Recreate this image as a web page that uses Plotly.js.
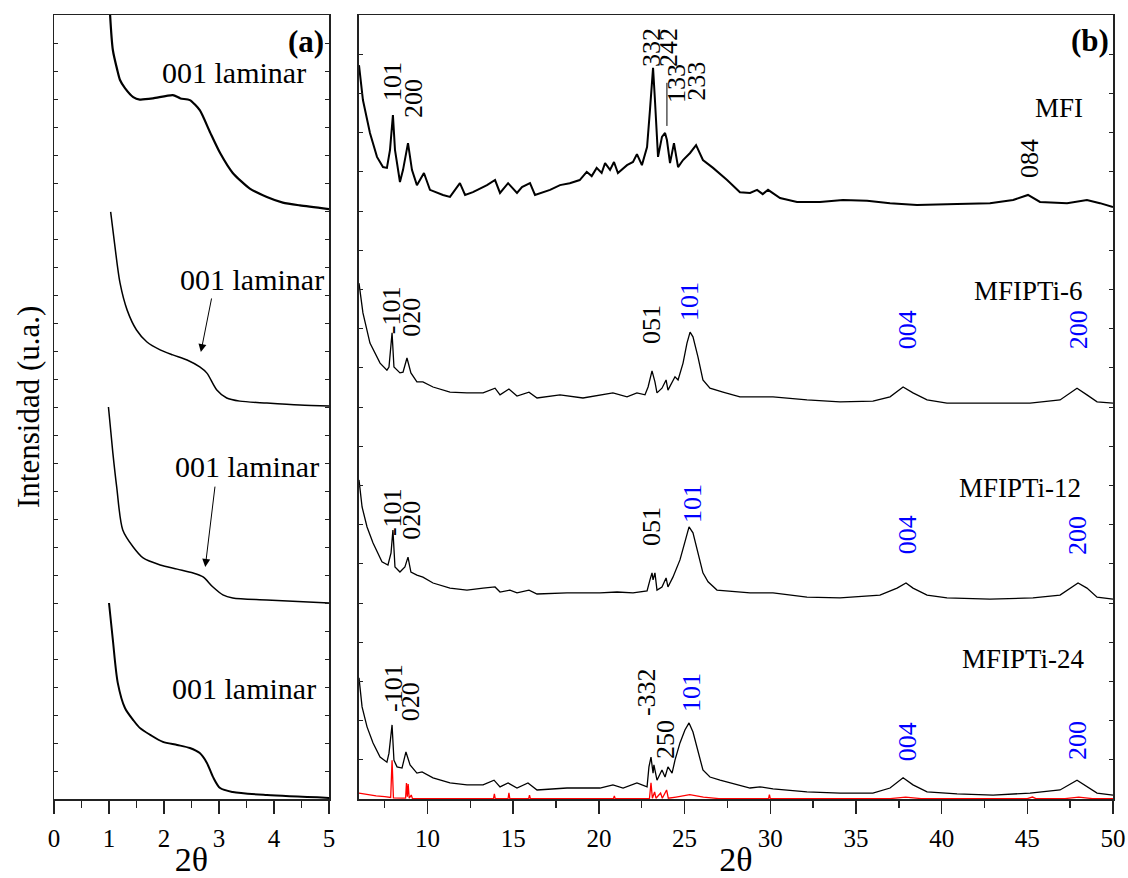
<!DOCTYPE html>
<html><head><meta charset="utf-8">
<script src="https://cdn.plot.ly/plotly-3.0.1.min.js"></script>
<style>body{margin:0;background:#fff}#chart{width:1128px;height:878px}</style>
</head><body><div id="chart"></div>
<script>
// ---------- Panel (a): low-angle XRD, 2θ 0–5 ----------
const a_mfi_x = [1.00,1.02,1.07,1.15,1.20,1.29,1.44,1.56,1.80,2.16,2.30,2.47,2.65,2.84,3.02,3.25,3.56,3.87,4.16,4.47,5.00];
const a_mfi_y = [29.0,28.0,26.75,26.04,25.68,25.39,25.07,24.98,25.02,25.14,25.02,24.96,24.60,23.80,23.07,22.36,21.80,21.50,21.30,21.20,21.07];

const a_ti6_x = [1.03,1.10,1.20,1.33,1.50,1.69,1.93,2.16,2.42,2.65,2.78,2.96,3.14,3.38,3.87,4.47,5.00];
const a_ti6_y = [20.97,19.86,18.43,17.46,16.75,16.32,16.04,15.86,15.68,15.43,15.21,14.61,14.32,14.21,14.14,14.07,14.04];

const a_ti12_x = [0.99,1.07,1.14,1.25,1.44,1.62,1.93,2.24,2.53,2.71,2.89,3.07,3.25,3.87,5.00];
const a_ti12_y = [14.00,12.36,11.14,9.61,9.00,8.61,8.36,8.21,8.07,7.93,7.57,7.29,7.18,7.11,7.00];

const a_ti24_x = [1.00,1.07,1.16,1.29,1.44,1.56,1.75,1.98,2.24,2.47,2.65,2.78,2.89,3.02,3.25,3.87,5.00];
const a_ti24_y = [7.00,5.68,4.14,3.25,2.82,2.54,2.29,2.04,1.93,1.82,1.64,1.29,0.79,0.39,0.25,0.14,0.04];

// ---------- Panel (b): wide-angle XRD, 2θ 6–50 ----------
const b_mfi_x = [6.00,6.23,6.64,7.05,7.40,7.63,7.81,7.98,8.10,8.39,8.57,8.86,9.09,9.38,9.79,10.14,10.90,11.31,11.89,12.19,12.65,13.47,13.94,14.23,14.70,15.22,15.51,15.98,16.27,17.15,17.73,18.30,18.88,19.29,19.58,19.87,20.16,20.36,20.65,20.88,21.11,21.64,21.99,22.22,22.51,22.81,22.98,23.16,23.27,23.45,23.68,23.86,23.97,24.15,24.38,24.62,24.91,25.32,25.67,26.07,26.66,27.48,28.23,28.82,29.23,29.56,29.87,30.57,31.56,32.90,34.24,35.65,36.99,38.56,40.90,42.82,44.17,45.04,45.74,47.32,48.48,49.24,50.00];
const b_mfi_y = [18.72,17.83,16.99,16.38,16.12,16.10,16.56,17.45,16.56,15.74,16.05,16.73,16.05,15.66,15.97,15.54,15.41,15.36,15.71,15.41,15.48,15.66,15.79,15.46,15.71,15.46,15.61,15.71,15.41,15.54,15.66,15.71,15.79,16.00,15.89,16.10,15.97,16.22,16.05,16.25,15.97,16.17,16.25,16.45,16.17,16.63,17.58,18.65,17.83,16.38,16.89,16.99,16.81,16.22,16.73,16.12,16.30,16.48,16.68,16.30,16.10,15.79,15.48,15.46,15.54,15.43,15.54,15.33,15.23,15.23,15.28,15.26,15.20,15.15,15.18,15.20,15.28,15.41,15.23,15.20,15.28,15.20,15.10];

const b_ti6_x = [6.00,6.23,6.64,7.23,7.63,7.75,7.93,8.04,8.39,8.57,8.80,9.03,9.38,9.73,10.32,11.31,12.30,13.24,13.94,14.23,14.75,15.22,15.92,16.39,17.73,19.07,20.82,21.64,22.22,22.69,22.87,23.10,23.27,23.39,23.68,23.92,24.03,24.44,24.62,24.91,25.14,25.32,25.49,25.78,26.07,26.48,27.24,28.23,30.16,32.14,34.07,35.99,36.99,37.75,38.33,39.15,40.31,42.82,45.16,46.91,47.90,48.48,49.07,50.00];
const b_ti6_y = [13.16,12.40,11.63,11.12,10.94,11.02,11.89,11.02,10.87,10.89,11.25,10.87,10.64,10.64,10.51,10.38,10.36,10.36,10.48,10.31,10.46,10.28,10.38,10.23,10.31,10.23,10.36,10.26,10.36,10.31,10.51,10.92,10.64,10.36,10.48,10.69,10.43,10.77,10.69,11.12,11.63,11.91,11.79,11.28,10.69,10.48,10.38,10.26,10.26,10.18,10.13,10.15,10.26,10.51,10.36,10.18,10.10,10.10,10.10,10.18,10.48,10.31,10.13,10.10];

const b_ti12_x = [6.00,6.18,6.47,6.82,7.34,7.69,7.87,7.98,8.10,8.39,8.68,8.86,9.03,9.38,9.73,10.32,11.31,12.30,13.24,13.94,14.23,14.81,15.22,15.92,16.39,18.14,20.06,21.06,21.99,22.81,22.98,23.10,23.16,23.27,23.39,23.68,23.92,24.03,24.32,24.73,25.02,25.26,25.49,25.78,26.07,26.37,26.89,28.82,30.16,32.14,34.07,36.40,37.40,37.92,38.33,39.15,40.31,42.82,45.33,46.91,47.96,48.48,49.07,50.00];
const b_ti12_y = [8.14,7.45,6.94,6.53,6.05,5.97,6.28,6.86,5.92,5.79,5.92,6.17,5.79,5.71,5.66,5.51,5.38,5.33,5.38,5.41,5.28,5.33,5.26,5.33,5.23,5.26,5.26,5.28,5.26,5.31,5.59,5.77,5.59,5.77,5.33,5.41,5.64,5.41,5.66,6.10,6.56,6.94,6.79,6.28,5.77,5.54,5.33,5.26,5.26,5.15,5.13,5.20,5.38,5.51,5.38,5.20,5.13,5.10,5.13,5.20,5.51,5.38,5.15,5.10];

const b_ti24_x = [6.00,6.18,6.47,6.82,7.23,7.63,7.75,7.93,8.04,8.22,8.51,8.74,8.98,9.38,9.68,10.32,11.31,12.30,13.24,13.88,14.23,14.70,15.22,15.86,16.39,18.14,20.06,20.82,21.41,22.22,22.81,22.92,23.04,23.16,23.21,23.39,23.68,23.86,24.03,24.27,24.44,24.73,25.02,25.26,25.49,25.78,26.07,26.48,27.07,28.82,29.40,30.16,32.14,34.07,35.99,36.99,37.75,38.33,39.15,40.90,43.00,45.16,46.91,47.90,48.48,49.07,50.00];
const b_ti24_y = [3.09,2.35,1.84,1.43,1.07,0.94,1.17,1.89,0.99,0.82,0.79,1.20,0.87,0.66,0.69,0.54,0.41,0.36,0.36,0.48,0.31,0.41,0.28,0.41,0.23,0.28,0.28,0.36,0.28,0.41,0.31,0.82,1.07,0.66,0.87,0.48,0.74,0.56,0.82,0.66,0.99,1.43,1.76,1.94,1.71,1.25,0.74,0.56,0.48,0.28,0.31,0.26,0.18,0.15,0.15,0.28,0.54,0.36,0.18,0.13,0.10,0.15,0.23,0.48,0.31,0.15,0.10];

// reference pattern (red)
const b_ref_x = [6.00,6.50,7.00,7.50,7.85,7.93,8.01,8.50,8.72,8.77,8.82,8.87,8.93,9.05,9.12,10.00,13.85,13.90,13.95,14.70,14.75,14.80,15.90,15.95,16.00,20.85,20.90,20.95,22.95,23.04,23.12,23.25,23.33,23.60,23.70,23.95,24.05,24.50,25.30,26.10,27.00,29.90,29.95,30.00,37.00,37.90,38.80,45.00,45.30,45.50,47.20,48.00,48.80,50.00];
const b_ref_y = [0.15,0.11,0.08,0.06,0.04,0.99,0.03,0.02,0.02,0.41,0.06,0.38,0.02,0.10,0.01,0.01,0.01,0.13,0.01,0.01,0.16,0.01,0.01,0.10,0.01,0.01,0.08,0.01,0.01,0.41,0.02,0.18,0.02,0.15,0.02,0.23,0.02,0.05,0.11,0.05,0.01,0.01,0.11,0.01,0.01,0.05,0.01,0.01,0.05,0.01,0.01,0.05,0.01,0.01];

const FONT = 'Liberation Serif, Times New Roman, serif';
const AX = '#222';

function tr(x, y, xa, ya, w, c, smooth) {
  const line = {color: c || '#000', width: w};
  if (smooth) { line.shape = 'spline'; line.smoothing = smooth; }
  return {x: x, y: y, xaxis: xa, yaxis: ya, type: 'scatter', mode: 'lines',
          line: line, hoverinfo: 'skip', cliponaxis: true};
}

const data = [
  tr(a_mfi_x, a_mfi_y, 'x', 'y', 2.2, null, 0.6),
  tr(a_ti6_x, a_ti6_y, 'x', 'y', 1.5, null, 0.8),
  tr(a_ti12_x, a_ti12_y, 'x', 'y', 1.5, null, 0.8),
  tr(a_ti24_x, a_ti24_y, 'x', 'y', 2.0, null, 0.8),
  tr(b_ref_x, b_ref_y, 'x2', 'y2', 1.3, '#ff0000'),
  tr(b_mfi_x, b_mfi_y, 'x2', 'y2', 2.0),
  tr(b_ti6_x, b_ti6_y, 'x2', 'y2', 1.3),
  tr(b_ti12_x, b_ti12_y, 'x2', 'y2', 1.3),
  tr(b_ti24_x, b_ti24_y, 'x2', 'y2', 1.3)
];

function xaxisDef(domain, range, dtick, minorD, anchor) {
  return {domain: domain, range: range, anchor: anchor, tick0: 0, dtick: dtick,
    showgrid: false, zeroline: false, showline: true, linecolor: AX, linewidth: 1.5, mirror: true,
    layer: 'below traces',
    ticks: 'outside', ticklen: 13, tickwidth: 1.5, tickcolor: AX,
    minor: {dtick: minorD, tick0: 0, ticks: 'outside', ticklen: 7, tickwidth: 1.5, tickcolor: AX, showgrid: false},
    tickfont: {family: FONT, size: 25, color: '#000'}, ticklabelstandoff: 3,
    title: {text: '2θ', font: {family: FONT, size: 34, color: '#000'}, standoff: 2}};
}
function topAxisDef(over, anchor, range, dtick) {
  return {overlaying: over, anchor: anchor, side: 'top', range: range, tick0: 0, dtick: dtick,
    showgrid: false, zeroline: false, showline: false, ticks: 'inside', ticklen: 4, tickwidth: 1,
    tickcolor: AX, showticklabels: false};
}
function yaxisDef(range, anchor) {
  return {domain: [0, 1], range: range, anchor: anchor, tick0: 0, dtick: 1,
    showgrid: false, zeroline: false, showline: true, linecolor: AX, linewidth: 1.5, mirror: 'ticks',
    ticks: 'inside', ticklen: 4, tickwidth: 1, tickcolor: AX, showticklabels: false};
}

function lab(text, x, y, xa, opts) {
  const o = opts || {};
  return {text: text, x: x, y: y, xref: xa, yref: xa === 'x' ? 'y' : 'y2', showarrow: false,
          textangle: o.rot ? -90 : 0, xanchor: o.xanchor || 'center', yanchor: 'middle',
          font: {family: FONT, size: o.size || 26, color: o.color || '#000'}};
}
function arrow(x, y, ax, ay) {
  return {text: '', x: x, y: y, ax: ax, ay: ay, xref: 'x', yref: 'y', axref: 'x', ayref: 'y',
          showarrow: true, arrowhead: 2, arrowsize: 1.6, arrowwidth: 1, arrowcolor: '#000'};
}
const BLUE = '#0000ff';
const R = {rot: true};
const RB = {rot: true, color: BLUE};

const annotations = [
  // panel a
  lab('<b>(a)</b>', 4.95, 27.07, 'x', {xanchor: 'right', size: 31}),
  lab('001 laminar', 3.27, 25.96, 'x', {size: 30}),
  lab('001 laminar', 3.60, 18.57, 'x', {size: 30}),
  lab('001 laminar', 3.51, 11.86, 'x', {size: 30}),
  lab('001 laminar', 3.45, 3.96, 'x', {size: 30}),
  arrow(2.67, 15.96, 2.87, 17.93),
  arrow(2.75, 8.29, 2.93, 11.21),
  // panel b
  lab('<b>(b)</b>', 49.9, 19.34, 'x2', {xanchor: 'right', size: 31}),
  lab('MFI', 48.37, 17.63, 'x2', {xanchor: 'right', size: 27}),
  lab('MFIPTi-6', 48.37, 12.96, 'x2', {xanchor: 'right', size: 27}),
  lab('MFIPTi-12', 48.25, 7.93, 'x2', {xanchor: 'right', size: 27}),
  lab('MFIPTi-24', 48.48, 3.57, 'x2', {xanchor: 'right', size: 27}),
  // MFI hkl
  lab('101', 7.93, 18.29, 'x2', R),
  lab('200', 9.15, 17.88, 'x2', R),
  lab('332', 23.10, 19.16, 'x2', R),
  lab('242', 24.03, 19.18, 'x2', R),
  lab('133', 24.56, 18.24, 'x2', R),
  lab('233', 25.72, 18.32, 'x2', R),
  lab('084', 45.16, 16.33, 'x2', R),
  // MFIPTi-6
  lab('-101', 7.87, 12.47, 'x2', R),
  lab('020', 9.09, 12.30, 'x2', R),
  lab('051', 23.04, 12.09, 'x2', R),
  lab('101', 25.32, 12.68, 'x2', RB),
  lab('004', 37.98, 11.96, 'x2', RB),
  lab('200', 47.96, 11.96, 'x2', RB),
  // MFIPTi-12
  lab('-101', 7.93, 7.32, 'x2', R),
  lab('020', 9.09, 7.12, 'x2', R),
  lab('051', 23.10, 6.94, 'x2', R),
  lab('101', 25.43, 7.55, 'x2', RB),
  lab('004', 37.98, 6.73, 'x2', RB),
  lab('200', 47.96, 6.71, 'x2', RB),
  // MFIPTi-24
  lab('-101', 7.98, 2.83, 'x2', R),
  lab('020', 8.98, 2.47, 'x2', R),
  lab('-332', 22.81, 2.73, 'x2', R),
  lab('250', 23.92, 1.51, 'x2', R),
  lab('101', 25.43, 2.73, 'x2', RB),
  lab('004', 37.98, 1.45, 'x2', RB),
  lab('200', 47.96, 1.48, 'x2', RB),
  // y title
  {text: 'Intensidad (u.a.)', xref: 'paper', yref: 'paper', x: -0.0246, y: 0.5, textangle: -90,
   showarrow: false, xanchor: 'center', yanchor: 'middle', font: {family: FONT, size: 31, color: '#000'}}
];

const layout = {
  width: 1128, height: 878, margin: {l: 54, r: 15, t: 15, b: 79},
  paper_bgcolor: '#fff', plot_bgcolor: '#fff', showlegend: false,
  font: {family: FONT, color: '#000', size: 24},
  xaxis: xaxisDef([0, 0.2597], [0, 5], 1, 0.5, 'y'),
  yaxis: yaxisDef([0, 28], 'x'),
  xaxis2: xaxisDef([0.2880, 1], [6, 50], 5, 2.5, 'y2'),
  yaxis2: yaxisDef([0, 20], 'x2'),
  xaxis3: topAxisDef('x', 'y', [0, 5], 1),
  xaxis4: topAxisDef('x2', 'y2', [6, 50], 2.5),
  shapes: [{type: 'line', xref: 'x2', yref: 'y2', x0: 23.97, x1: 23.97, y0: 17.17, y1: 18.27,
            line: {color: '#000', width: 1}}],
  annotations: annotations
};

Plotly.newPlot('chart', data, layout, {displayModeBar: false, staticPlot: true});
</script></body></html>
